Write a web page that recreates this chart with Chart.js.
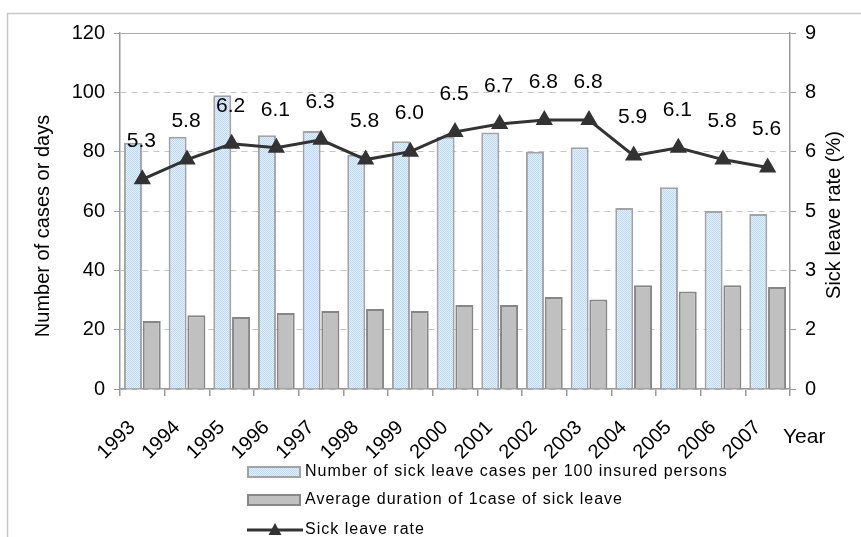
<!DOCTYPE html>
<html>
<head>
<meta charset="utf-8">
<title>Sick leave 1993-2007</title>
<script src="https://cdn.jsdelivr.net/npm/chart.js@4.4.1/dist/chart.umd.min.js"></script>
<style>
  body { margin: 0; background: #fff; }
  #wrap { width: 861px; height: 537px; }
</style>
</head>
<body>
<div id="wrap"><canvas id="sickChart" width="861" height="537"></canvas></div>
<script>
// data
var years = ['1993', '1994', '1995', '1996', '1997', '1998', '1999', '2000',
             '2001', '2002', '2003', '2004', '2005', '2006', '2007'];
var casesPer100 = [83, 85, 99, 85.5, 87, 79, 83.5, 85, 86.5, 80, 81.5, 61, 68, 60, 59];
var avgDuration = [22.9, 24.9, 24.3, 25.6, 26.3, 27, 26.3, 28.3, 28.3, 31, 30.2, 35, 32.9, 35, 34.4];
var sickRate = [5.3, 5.8, 6.2, 6.1, 6.3, 5.8, 6.0, 6.5, 6.7, 6.8, 6.8, 5.9, 6.1, 5.8, 5.6];
var rightTickLabels = ['0', '2', '3', '5', '6', '8', '9'];

var fam = "'Liberation Sans', Arial, sans-serif";
Chart.defaults.font.family = fam;
Chart.defaults.color = '#000';

// dotted light blue fill like the excel pattern
function makeDots() {
    var c = document.createElement('canvas');
    c.width = 2; c.height = 2;
    var g = c.getContext('2d');
    g.fillStyle = '#e6f1ff';
    g.fillRect(0, 0, 2, 2);
    g.fillStyle = '#b9d8fb';
    g.fillRect(0, 0, 1, 1);
    g.fillRect(1, 1, 1, 1);
    return g.createPattern(c, 'repeat');
}
var dots = makeDots();

var frame = {
    id: 'frame',
    beforeDraw: function (chart) {
        var ctx = chart.ctx;
        ctx.save();
        ctx.fillStyle = '#fff';
        ctx.fillRect(0, 0, chart.width, chart.height);
        ctx.strokeStyle = '#c8c8c8';
        ctx.lineWidth = 1.5;
        ctx.strokeRect(7.5, 13.5, chart.width + 20, chart.height + 20);
        ctx.restore();
    }
};

var rateLabels = {
    id: 'rateLabels',
    afterDatasetsDraw: function (chart) {
        var ctx = chart.ctx;
        var meta = chart.getDatasetMeta(2);
        ctx.save();
        ctx.font = '21px ' + fam;
        ctx.fillStyle = '#000';
        ctx.textAlign = 'center';
        ctx.textBaseline = 'middle';
        meta.data.forEach(function (pt, i) {
            ctx.fillText(sickRate[i].toFixed(1), pt.x - 1, pt.y - 38);
        });
        ctx.restore();
    }
};

var extras = {
    id: 'extras',
    afterDraw: function (chart) {
        var ctx = chart.ctx;
        var ds = chart.data.datasets;
        ctx.save();
        ctx.fillStyle = '#000';
        ctx.textAlign = 'center';
        ctx.textBaseline = 'middle';
        ctx.font = '20px ' + fam;

        // axis titles
        ctx.save();
        ctx.translate(43, 226);
        ctx.rotate(-Math.PI / 2);
        ctx.fillText('Number of cases or days', 0, 0);
        ctx.restore();

        ctx.save();
        ctx.translate(834, 215);
        ctx.rotate(-Math.PI / 2);
        ctx.fillText('Sick leave rate (%)', 0, 0);
        ctx.restore();

        ctx.textAlign = 'left';
        ctx.font = '21px ' + fam;
        ctx.fillText('Year', 783, 437);

        // legend, stacked
        ctx.font = '16px ' + fam;
        if ('letterSpacing' in ctx) ctx.letterSpacing = '1px';
        var rows = [472, 500, 530];
        for (var i = 0; i < 2; i++) {
            ctx.fillStyle = ds[i].backgroundColor;
            ctx.fillRect(248, rows[i] - 5, 52, 10);
            ctx.strokeStyle = ds[i].borderColor;
            ctx.lineWidth = 2;
            ctx.strokeRect(248, rows[i] - 5, 52, 10);
            ctx.fillStyle = '#000';
            ctx.fillText(ds[i].label, 305, rows[i]);
        }
        ctx.strokeStyle = ds[2].borderColor;
        ctx.lineWidth = 3;
        ctx.beginPath();
        ctx.moveTo(247, rows[2]);
        ctx.lineTo(303, rows[2]);
        ctx.stroke();
        ctx.fillStyle = ds[2].borderColor;
        ctx.beginPath();
        ctx.moveTo(275, rows[2] - 7);
        ctx.lineTo(281.5, rows[2] + 5);
        ctx.lineTo(268.5, rows[2] + 5);
        ctx.closePath();
        ctx.fill();
        ctx.fillStyle = '#000';
        ctx.fillText(ds[2].label, 305, rows[2]);
        ctx.restore();
    }
};

var ctx = document.getElementById('sickChart').getContext('2d');
var sickChart = new Chart(ctx, {
    type: 'bar',
    data: {
        labels: years,
        datasets: [{
            label: 'Number of sick leave cases per 100 insured persons',
            data: casesPer100,
            backgroundColor: dots,
            borderColor: '#a3a3a3',
            borderWidth: 2,
            yAxisID: 'y',
            order: 1
        }, {
            label: 'Average duration of 1case of sick leave',
            data: avgDuration,
            backgroundColor: '#c0c0c0',
            borderColor: '#868686',
            borderWidth: 2,
            yAxisID: 'y',
            order: 1
        }, {
            type: 'line',
            label: 'Sick leave rate',
            data: sickRate,
            borderColor: '#333333',
            backgroundColor: '#333333',
            borderWidth: 3,
            pointStyle: 'triangle',
            pointRadius: 7,
            pointBackgroundColor: '#333333',
            pointBorderColor: '#333333',
            tension: 0,
            yAxisID: 'y2',
            order: 0
        }]
    },
    options: {
        responsive: false,
        animation: false,
        categoryPercentage: 0.84,
        barPercentage: 0.96,
        layout: {
            padding: { left: 25, right: 0, top: 33, bottom: 63 }
        },
        plugins: {
            legend: { display: false },
            tooltip: { enabled: false }
        },
        scales: {
            x: {
                offset: true,
                grid: {
                    offset: true,
                    drawOnChartArea: false,
                    tickLength: 7,
                    color: '#9a9a9a',
                    lineWidth: 1.5
                },
                border: { color: '#9a9a9a', width: 1.5 },
                ticks: {
                    minRotation: 45,
                    maxRotation: 45,
                    padding: 20,
                    labelOffset: -10,
                    font: { size: 20 }
                },
                afterFit: function (s) { s.height = 85; }
            },
            y: {
                position: 'left',
                min: 0,
                max: 120,
                ticks: { stepSize: 20, padding: 9, font: { size: 20 } },
                grid: {
                    color: function (c) { return c.tick && c.tick.value === 120 ? '#aaaaaa' : '#c4c4c4'; },
                    lineWidth: 1,
                    tickLength: 6,
                    tickColor: '#9a9a9a'
                },
                border: {
                    color: '#9a9a9a',
                    width: 1.5,
                    dash: function (c) { return c.tick && c.tick.value === 120 ? [] : [6, 5]; }
                },
                afterFit: function (s) { s.width = 95; }
            },
            y2: {
                position: 'right',
                min: 0,
                max: 9,
                ticks: {
                    stepSize: 1.5,
                    padding: 9,
                    font: { size: 20 },
                    callback: function (v, i) { return rightTickLabels[i]; }
                },
                grid: {
                    drawOnChartArea: false,
                    tickLength: 6,
                    color: '#9a9a9a'
                },
                border: { color: '#9a9a9a', width: 1.5 },
                afterFit: function (s) { s.width = 71; }
            }
        }
    },
    plugins: [frame, rateLabels, extras]
});
</script>
</body>
</html>
